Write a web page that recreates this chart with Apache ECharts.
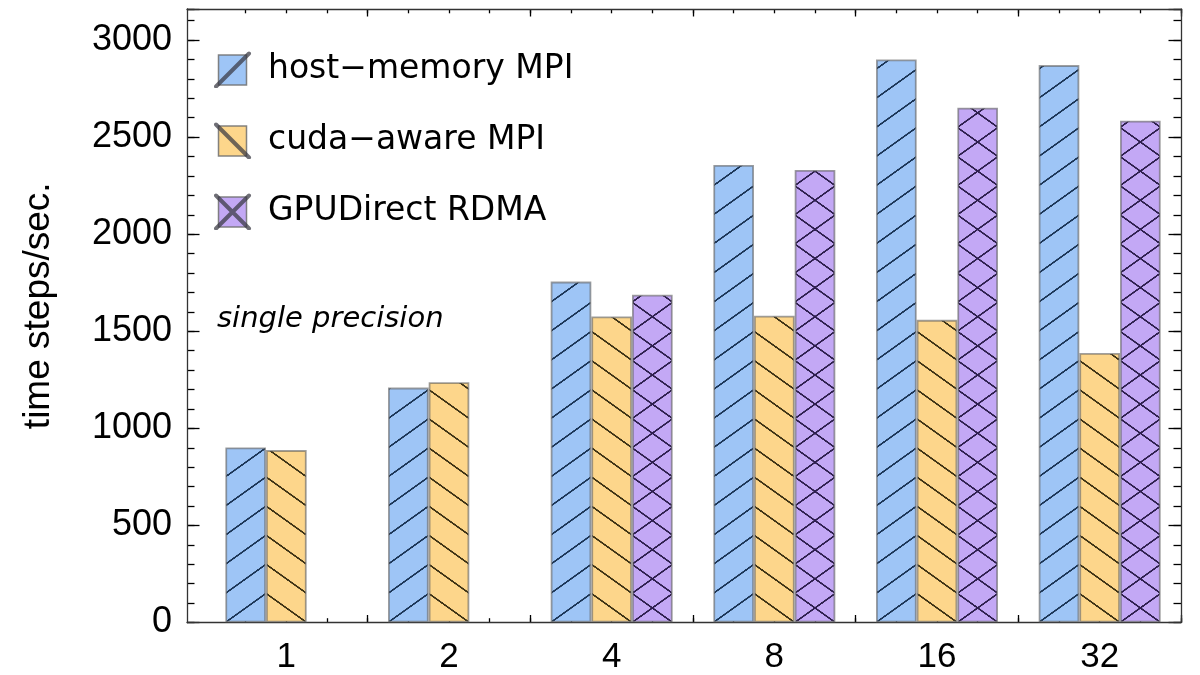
<!DOCTYPE html>
<html>
<head>
<meta charset="utf-8">
<title>time steps/sec.</title>
<script src="https://cdn.jsdelivr.net/npm/echarts@6/dist/echarts.min.js"></script>
<style>
  html, body { margin: 0; padding: 0; background: #fff; }
  #chart { width: 1200px; height: 675px; }
</style>
</head>
<body>
<div id="chart"></div>
<script>
// Node counts (x categories)
const categories = ['1', '2', '4', '8', '16', '32'];

// Throughput per configuration, time steps per second
const hostMemory = [902, 1210, 1756, 2357, 2900, 2871];
const cudaAware  = [888, 1238, 1576, 1580, 1559, 1388];
const gpuDirect  = [null, null, 1688, 2331, 2652, 2585];

const seriesNames = ['host\u2212memory MPI', 'cuda\u2212aware MPI', 'GPUDirect RDMA'];

// Value axis
const yMax = 3160;
const yMajorStep = 500;
const yMinorStep = 100;
const hatchStep = 150;   // vertical period of the hatching, in axis units

// Styling
const fills   = ['#9ec5f6', '#fdd68b', '#c3a8f5'];
const hatchInk = ['#1b3556', '#3d3214', '#2e1f4e'];
const hatchKind = ['up', 'down', 'cross'];
const FONT = "'Liberation Sans', Arial, sans-serif";
const INSET_FONT = "'DejaVu Sans', sans-serif";
const frameColor = '#333';

// Plot frame and bar area (px)
const PLOT = { top: 9, bottom: 52.5, right: 19, frameLeft: 187, barLeft: 205 };
const TICK = { yMajor: 12.5, yMinor: 7.5, xMajor: 7.5, xMinor: 4.3 };

// four tick slots per category: three bars plus the gap between groups
const slots = categories.flatMap(c => ['a', 'b', 'c', 'd'].map(s => c + s));

function legendIcon(fill, kind) {
  const cv = document.createElement('canvas');
  cv.width = 49; cv.height = 37;
  const g = cv.getContext('2d');
  g.fillStyle = fill;
  g.fillRect(4.5, 4, 28, 30);
  g.strokeStyle = 'rgba(110,110,110,0.85)';
  g.lineWidth = 1.5;
  g.strokeRect(4.5, 4, 28, 30);
  g.strokeStyle = 'rgba(55,55,65,0.72)';
  g.lineWidth = 4;
  g.lineCap = 'round';
  g.beginPath();
  if (kind === 'up' || kind === 'cross') { g.moveTo(2, 35.5); g.lineTo(35, 2.5); }
  if (kind === 'down' || kind === 'cross') { g.moveTo(2, 2.5); g.lineTo(35, 35.5); }
  g.stroke();
  return 'image://' + cv.toDataURL();
}

function hatchTile(fill, ink, kind) {
  const W = 160, H = 114;
  const cv = document.createElement('canvas');
  cv.width = W; cv.height = H;
  const g = cv.getContext('2d');
  g.fillStyle = fill;
  g.fillRect(0, 0, W, H);
  g.strokeStyle = ink;
  g.lineWidth = 6.4;
  g.beginPath();
  for (const dy of [-H, 0, H]) {
    if (kind === 'up' || kind === 'cross') { g.moveTo(-W, 2 * H + dy); g.lineTo(2 * W, -H + dy); }
    if (kind === 'down' || kind === 'cross') { g.moveTo(-W, -H + dy); g.lineTo(2 * W, 2 * H + dy); }
  }
  g.stroke();
  return { canvas: cv, W, H };
}

const tickLine = { color: '#000', width: 1.3 };
const frameLine = { show: true, onZero: false, lineStyle: { color: frameColor, width: 1.3 } };
const none = { show: false };

const grids = [];
const xAxes = [];
const yAxes = [];
function addGrid(g) { grids.push(g); return grids.length - 1; }
function hiddenValueAxis(gridIndex) {
  return { type: 'value', gridIndex, min: 0, max: 1, show: false };
}

// grid 0: the bars
const gBars = addGrid({ left: PLOT.barLeft, right: PLOT.right, top: PLOT.top, bottom: PLOT.bottom });
xAxes.push({
  type: 'category', gridIndex: gBars, data: categories, position: 'bottom',
  axisLine: { show: false, onZero: false }, axisTick: none,
  axisLabel: { margin: 17, fontFamily: FONT, fontSize: 35, color: '#000' },
  splitLine: none
});
yAxes.push({ type: 'value', gridIndex: gBars, min: 0, max: yMax, show: false });

// grid 1: the frame with the value labels and axis title
const gFrame = addGrid({ left: PLOT.frameLeft, right: PLOT.right, top: PLOT.top, bottom: PLOT.bottom });
['bottom', 'top'].forEach(pos => xAxes.push({
  type: 'value', gridIndex: gFrame, min: 0, max: 1, position: pos, axisLine: frameLine,
  axisTick: none, axisLabel: none, splitLine: none
}));
yAxes.push({
  type: 'value', gridIndex: gFrame, min: 0, max: yMax, interval: yMajorStep, position: 'left',
  axisLine: frameLine, axisTick: none, splitLine: none,
  axisLabel: {
    show: true, showMaxLabel: false, margin: 15,
    fontFamily: FONT, fontSize: 36, color: '#000', formatter: (v) => String(v)
  },
  name: 'time steps/sec.', nameLocation: 'middle', nameGap: 130,
  nameTextStyle: { fontFamily: FONT, fontSize: 37, color: '#000', padding: [0, 0, 0, 20] }
});
yAxes.push({
  type: 'value', gridIndex: gFrame, min: 0, max: yMax, position: 'right',
  axisLine: frameLine, axisTick: none, axisLabel: none, splitLine: none
});

// inward tick marks: thin strips along the frame whose split lines are the ticks
function yTickStrip(side, width, step) {
  const g = { top: PLOT.top, bottom: PLOT.bottom, width };
  if (side === 'left') g.left = PLOT.frameLeft; else g.right = PLOT.right;
  const gi = addGrid(g);
  xAxes.push(hiddenValueAxis(gi));
  yAxes.push({
    type: 'value', gridIndex: gi, min: 0, max: yMax, interval: step,
    axisLine: none, axisTick: none, axisLabel: none,
    splitLine: { show: true, lineStyle: tickLine }
  });
}
function xTickStrip(side, height, data) {
  const g = { left: PLOT.barLeft, right: PLOT.right, height };
  if (side === 'bottom') g.bottom = PLOT.bottom; else g.top = PLOT.top;
  const gi = addGrid(g);
  xAxes.push({
    type: 'category', gridIndex: gi, data,
    axisLine: none, axisTick: none, axisLabel: none,
    splitLine: { show: true, interval: (i) => i !== 0, lineStyle: tickLine }
  });
  yAxes.push(hiddenValueAxis(gi));
}
yTickStrip('left', TICK.yMajor, yMajorStep);
yTickStrip('left', TICK.yMinor, yMinorStep);
yTickStrip('right', TICK.yMajor, yMajorStep);
yTickStrip('right', TICK.yMinor, yMinorStep);
xTickStrip('bottom', TICK.xMajor, categories);
xTickStrip('bottom', TICK.xMinor, slots);
xTickStrip('top', TICK.xMajor, categories);
xTickStrip('top', TICK.xMinor, slots);

const chart = echarts.init(document.getElementById('chart'), null, { renderer: 'canvas' });

const option = {
  animation: false,
  backgroundColor: '#fff',
  title: {
    text: 'single precision', left: 217, top: 305, padding: 0,
    textStyle: { fontFamily: INSET_FONT, fontStyle: 'italic', fontWeight: 'normal', fontSize: 29, color: '#000' }
  },
  legend: {
    orient: 'vertical', left: 214, top: 51, padding: 0,
    itemWidth: 49, itemHeight: 37, itemGap: 34,
    selectedMode: false,
    textStyle: { fontFamily: INSET_FONT, fontSize: 33, color: '#000' },
    data: seriesNames.map((n, i) => ({ name: n, icon: legendIcon(fills[i], hatchKind[i]) }))
  },
  grid: grids,
  xAxis: xAxes,
  yAxis: yAxes,
  series: [hostMemory, cudaAware, gpuDirect].map((vals, i) => ({
    name: seriesNames[i], type: 'bar', xAxisIndex: 0, yAxisIndex: 0,
    data: vals, barGap: '0%', barCategoryGap: '25%', z: 1,
    itemStyle: { color: fills[i], borderColor: 'rgba(95,95,95,0.6)', borderWidth: 1.8 }
  }))
};

chart.setOption(option);

// Anchor the hatching to the bars: one tile per bar slot, starting at the axis base.
const yBase = chart.convertToPixel({ yAxisIndex: 0 }, 0);
const period = yBase - chart.convertToPixel({ yAxisIndex: 0 }, hatchStep);
const c0 = chart.convertToPixel({ xAxisIndex: 0 }, categories[0]);
const c1 = chart.convertToPixel({ xAxisIndex: 0 }, categories[1]);
const slot = (c1 - c0) / 4;
const firstLeft = c0 - 1.5 * slot;

chart.setOption({
  series: [0, 1, 2].map(i => {
    const t = hatchTile(fills[i], hatchInk[i], hatchKind[i]);
    return {
      itemStyle: {
        color: {
          image: t.canvas, repeat: 'repeat',
          x: firstLeft, y: yBase,
          scaleX: slot / t.W, scaleY: period / t.H
        }
      }
    };
  })
});
</script>
</body>
</html>
